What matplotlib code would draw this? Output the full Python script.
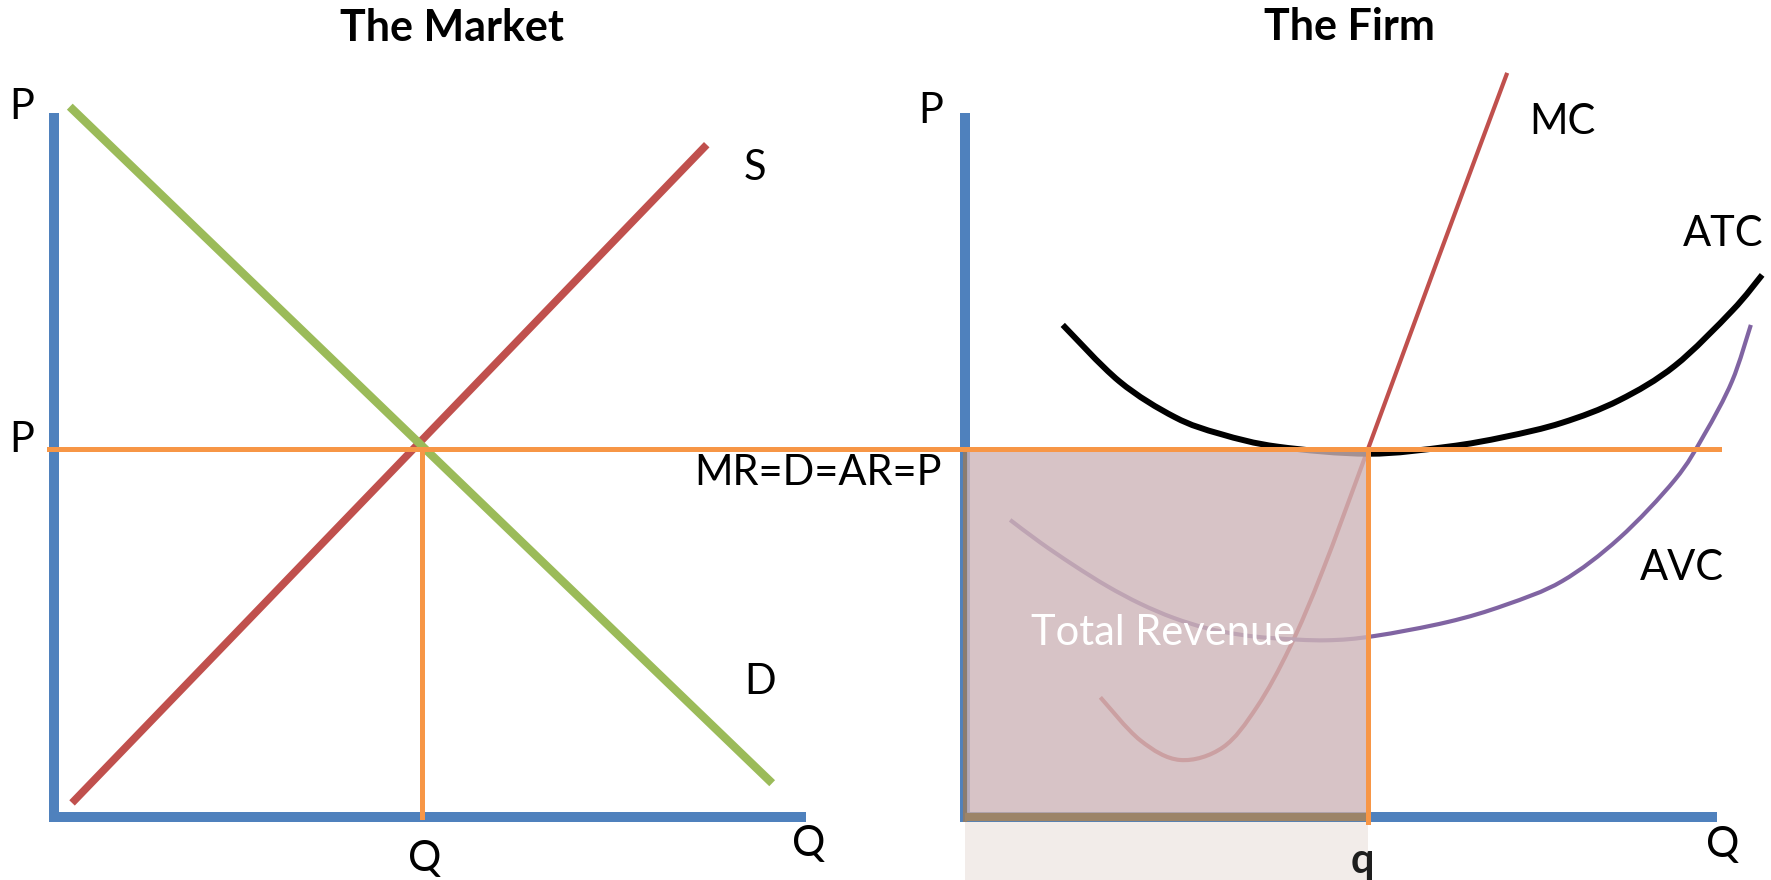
import numpy as np
import matplotlib
matplotlib.use("Agg")
import matplotlib.pyplot as plt
from matplotlib.path import Path
from matplotlib.patches import PathPatch, Rectangle
from matplotlib.lines import Line2D
from matplotlib.transforms import IdentityTransform

plt.rcParams['font.family'] = ['Lato', 'DejaVu Sans']

# ---------------- data (diagram units: quantity 0-10, price 0-10) ----------------
# The Market
demand_q = [0.21, 9.55]
demand_p = [10.09, 0.48]
supply_q = [0.24, 8.68]
supply_p = [0.20, 9.55]
market_price = 5.23
market_qty = 4.89

# The Firm
mc_q = [1.80, 2.33, 2.86, 3.43, 3.88, 4.32, 4.76, 5.36, 6.28, 7.21]
mc_p = [1.70, 1.09, 0.81, 0.99, 1.56, 2.41, 3.51, 5.23, 7.90, 10.57]
atc_q = [1.30, 2.05, 2.79, 3.40, 4.16, 5.37, 6.42, 7.18, 7.94, 8.70, 9.44, 10.20, 10.60]
atc_p = [6.99, 6.19, 5.68, 5.44, 5.26, 5.16, 5.26, 5.40, 5.60, 5.92, 6.41, 7.19, 7.70]
avc_q = [0.60, 1.00, 1.44, 1.89, 2.33, 2.77, 3.22, 3.66, 4.10, 4.80, 5.44, 6.42, 7.18, 7.94, 8.70,
         9.44, 9.83, 10.20, 10.45]
avc_p = [4.22, 3.90, 3.58, 3.28, 3.03, 2.83, 2.68, 2.59, 2.54, 2.51, 2.57, 2.77, 3.01, 3.35, 3.96,
         4.79, 5.43, 6.19, 6.99]
firm_qty = 5.36

# ---------------- styles ----------------
BLUE = '#4f81bd'
GREEN = '#9bbb59'
RED = '#c0504d'
ORANGE = '#f79646'
PURPLE = '#8064a2'
FS = 30


def smooth_path(xs, ys):
    pts = np.column_stack([xs, ys]).astype(float)
    n = len(pts)
    verts = [pts[0]]
    codes = [Path.MOVETO]
    for i in range(n - 1):
        p0 = pts[i - 1] if i > 0 else pts[i]
        p1 = pts[i]
        p2 = pts[i + 1]
        p3 = pts[i + 2] if i + 2 < n else pts[i + 1]
        c1 = p1 + (p2 - p0) / 6.0
        c2 = p2 - (p3 - p1) / 6.0
        verts += [c1, c2, p2]
        codes += [Path.CURVE4] * 3
    return Path(verts, codes)


W, H = 1771, 880
fig = plt.figure(figsize=(W / 100, H / 100), dpi=100)
fig.patch.set_facecolor('white')

axm = fig.add_axes([54 / W, 63 / H, 752 / W, 704 / H])
axf = fig.add_axes([965 / W, 63 / H, 752 / W, 704 / H])
for ax in (axm, axf):
    ax.set_xlim(0, 10)
    ax.set_ylim(0, 10)
    ax.axis('off')

# ---------------- The Market ----------------
axm.plot([0, 0], [-0.07, 10.0], color=BLUE, lw=7.2, solid_capstyle='butt', clip_on=False, zorder=2)
axm.plot([-0.07, 10.0], [0, 0], color=BLUE, lw=7.2, solid_capstyle='butt', clip_on=False, zorder=2)
axm.plot(demand_q, demand_p, color=GREEN, lw=6, solid_capstyle='butt', clip_on=False, zorder=4)
axm.plot(supply_q, supply_p, color=RED, lw=5.5, solid_capstyle='butt', clip_on=False, zorder=3)
axm.plot([market_qty, market_qty], [0, market_price], color=ORANGE, lw=3.6, clip_on=False, zorder=5)

txt = dict(fontsize=FS, color='black', ha='center', va='center')
axm.text(-0.43, 10.09, 'P', **txt)
axm.text(-0.43, 5.36, 'P', **txt)
axm.text(9.32, 9.22, 'S', **txt)
axm.text(9.39, 1.92, 'D', **txt)
axm.text(market_qty + 0.04, -0.60, 'Q', **txt)
axm.text(10.03, -0.38, 'Q', **txt)
fig.text(452 / W, 1 - 28 / H, 'The Market', fontsize=31, fontweight='bold', ha='center', va='center')

# ---------------- The Firm ----------------
axf.plot([0, 0], [-0.07, 10.0], color=BLUE, lw=7.2, solid_capstyle='butt', clip_on=False, zorder=2)
axf.plot([0, 10.0], [0, 0], color=BLUE, lw=7.2, solid_capstyle='butt', clip_on=False, zorder=2)

axf.add_patch(PathPatch(smooth_path(mc_q, mc_p), fill=False, edgecolor=RED, lw=3.0, clip_on=False, zorder=3))
axf.add_patch(PathPatch(smooth_path(atc_q, atc_p), fill=False, edgecolor='black', lw=4.3, clip_on=False, zorder=3))
axf.add_patch(PathPatch(smooth_path(avc_q, avc_p), fill=False, edgecolor=PURPLE, lw=3.0, clip_on=False, zorder=3))

# total revenue box
axf.add_patch(Rectangle((0, -0.9), firm_qty, 0.83, facecolor='#f2ece9', edgecolor='none', clip_on=False, zorder=1))
axf.add_patch(Rectangle((0, 0), firm_qty, market_price, facecolor=(206 / 255, 181 / 255, 184 / 255),
                        alpha=0.8, edgecolor='none', clip_on=False, zorder=6))
axf.plot([0, 0], [-0.07, market_price], color='#8a7c70', lw=3.0, solid_capstyle='butt', clip_on=False, zorder=7)
axf.plot([0, firm_qty], [0, 0], color='#9c8468', lw=6, solid_capstyle='butt', clip_on=False, zorder=7)
axf.plot([firm_qty, firm_qty], [-0.07, market_price], color=ORANGE, lw=3.6, clip_on=False, zorder=8)

axf.text(2.63, 2.61, 'Total Revenue', fontsize=FS, color='white', ha='center', va='center', zorder=9)
axf.text(-0.45, 10.03, 'P', **txt)
axf.text(7.94, 9.87, 'MC', **txt)
axf.text(10.08, 8.28, 'ATC', **txt)
axf.text(9.53, 3.54, 'AVC', **txt)
axf.text(firm_qty - 0.07, -0.62, 'q', fontsize=FS, fontweight='bold', color='#1e1e1e', ha='center', va='center')
axf.text(10.07, -0.40, 'Q', **txt)
axf.text(-0.31, 4.89, 'MR=D=AR=P', fontsize=FS, color='black', ha='right', va='center')
fig.text(1349 / W, 1 - 27 / H, 'The Firm', fontsize=31, fontweight='bold', ha='center', va='center')

# price line spanning both panels
fig.canvas.draw()
p_start = axm.transData.transform((-0.07, market_price))
p_end = axf.transData.transform((10.03, market_price))
fig.add_artist(Line2D([p_start[0], p_end[0]], [p_start[1], p_end[1]], color=ORANGE, lw=3.6,
                      transform=IdentityTransform(), zorder=10))

fig.savefig('out.png', dpi=100, facecolor='white')
